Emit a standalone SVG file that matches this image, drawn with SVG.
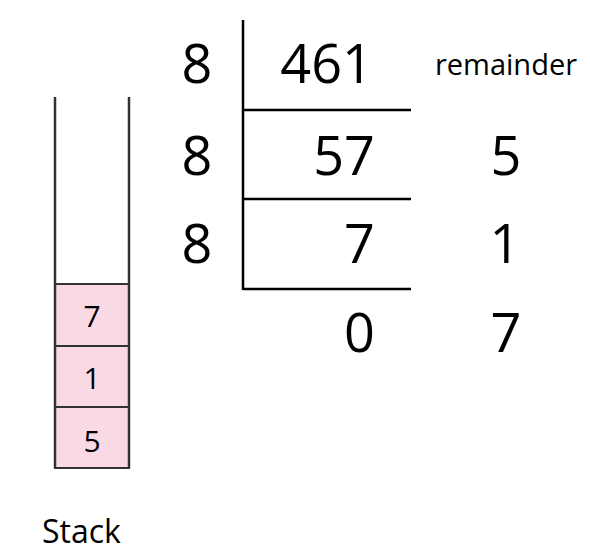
<svg xmlns="http://www.w3.org/2000/svg" width="590" height="557" viewBox="0 0 590 557">
<style>
.t{font-family:"Open Sans","Noto Sans",sans-serif;fill:#000;font-weight:500}
.big{font-size:54px}
.box{font-size:30px}
.ln{stroke:#000;stroke-width:2.5;fill:none}
.cell{fill:#f8d9e4;stroke:#333;stroke-width:2}
.wall{stroke:#333;stroke-width:2.5;fill:none}
</style>
<rect width="590" height="557" fill="#fff"/>
<g id="connectors">
<line class="ln" x1="243" y1="20" x2="243" y2="290"/>
<line class="ln" x1="243" y1="110" x2="411" y2="110"/>
<line class="ln" x1="243" y1="199" x2="411" y2="199"/>
<line class="ln" x1="243" y1="289" x2="411" y2="289"/>
</g>
<g id="division">
<text class="t big" x="197" y="83" text-anchor="middle">8</text>
<text class="t big" x="373" y="83" text-anchor="end">461</text>
<text class="t" x="506" y="75" text-anchor="middle" font-size="29">remainder</text>
<text class="t big" x="197" y="175" text-anchor="middle">8</text>
<text class="t big" x="375" y="175" text-anchor="end">57</text>
<text class="t big" x="506" y="175" text-anchor="middle">5</text>
<text class="t big" x="197" y="263" text-anchor="middle">8</text>
<text class="t big" x="375" y="263" text-anchor="end">7</text>
<text class="t big" x="505" y="263" text-anchor="middle">1</text>
<text class="t big" x="375" y="352" text-anchor="end">0</text>
<text class="t big" x="506" y="352" text-anchor="middle">7</text>
</g>
<g id="stack">
<rect class="cell" x="55" y="284" width="74" height="62"/>
<rect class="cell" x="55" y="346" width="74" height="61"/>
<rect class="cell" x="55" y="407" width="74" height="61"/>
<line class="wall" x1="55" y1="97" x2="55" y2="468"/>
<line class="wall" x1="129" y1="97" x2="129" y2="468"/>
<text class="t box" x="92" y="327" text-anchor="middle">7</text>
<text class="t box" x="92" y="389" text-anchor="middle">1</text>
<text class="t box" x="92" y="452" text-anchor="middle">5</text>
<text class="t" x="42" y="543" font-size="32">Stack</text>
</g>
</svg>
